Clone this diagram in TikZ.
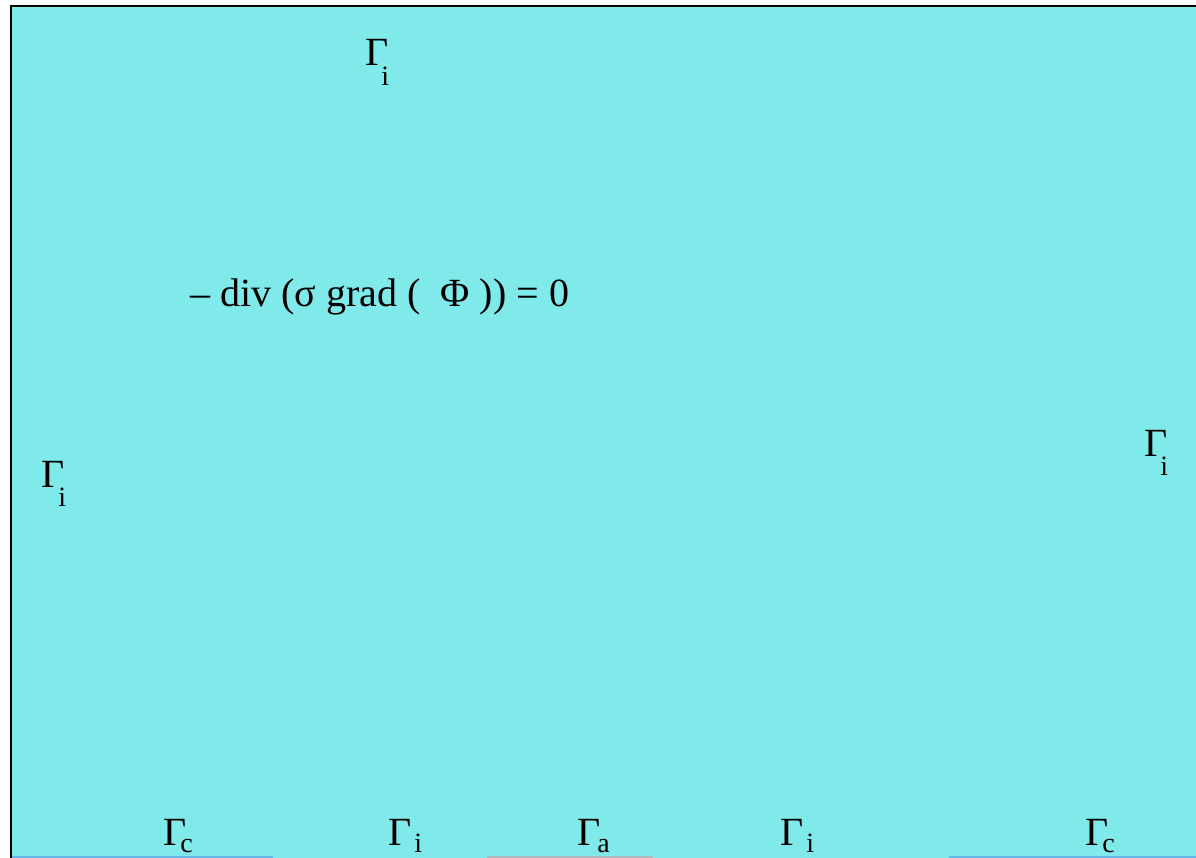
\documentclass[tikz,border=0pt]{standalone}
\usepackage{fontspec}
\setmainfont{Liberation Serif}
\definecolor{bgcyan}{RGB}{128,233,233}
\definecolor{edgeblue}{RGB}{100,185,230}
\definecolor{edgegray}{RGB}{175,185,190}
% \gam{subscript}{drop}{kern}
\newcommand{\gam}[3]{Γ\kern#3pt\raisebox{-#2pt}{\fontsize{28}{28}\selectfont #1}}
\begin{document}
\begin{tikzpicture}[x=1pt,y=-1pt,
  lbl/.style={inner sep=0pt, anchor=base west, font=\fontsize{40}{40}\selectfont}]
\useasboundingbox (0,0) rectangle (1196,858);
\fill[bgcyan] (11,6) rectangle (1196,858);
\draw[line width=2pt] (11,858) -- (11,6.5) -- (1196,6.5);
\draw[edgeblue, line width=1.5pt] (12,857.2) -- (273,857.2);
\draw[edgegray, line width=1.5pt] (487,857.2) -- (653,857.2);
\draw[edgeblue, line width=1.5pt] (949,857.2) -- (1196,857.2);
% equation
\node[lbl] (eq) at (190,307) {– div (σ grad (\ \ Φ )) = 0};
% boundary labels
\node[lbl] (gt) at (365,66) {\gam{i}{20}{-7}};
\node[lbl] (gl) at (41,487) {\gam{i}{19}{-6}};
\node[lbl] (gr) at (1144,456) {\gam{i}{19}{-7}};
\node[lbl] (b1) at (163,845) {\gam{c}{7}{-6}};
\node[lbl] (b2) at (388,845) {\gam{i}{7}{3}};
\node[lbl] (b3) at (577,845) {\gam{a}{7}{-3}};
\node[lbl] (b4) at (780,845) {\gam{i}{7}{3}};
\node[lbl] (b5) at (1085,845) {\gam{c}{7}{-6}};
\end{tikzpicture}
\end{document}
